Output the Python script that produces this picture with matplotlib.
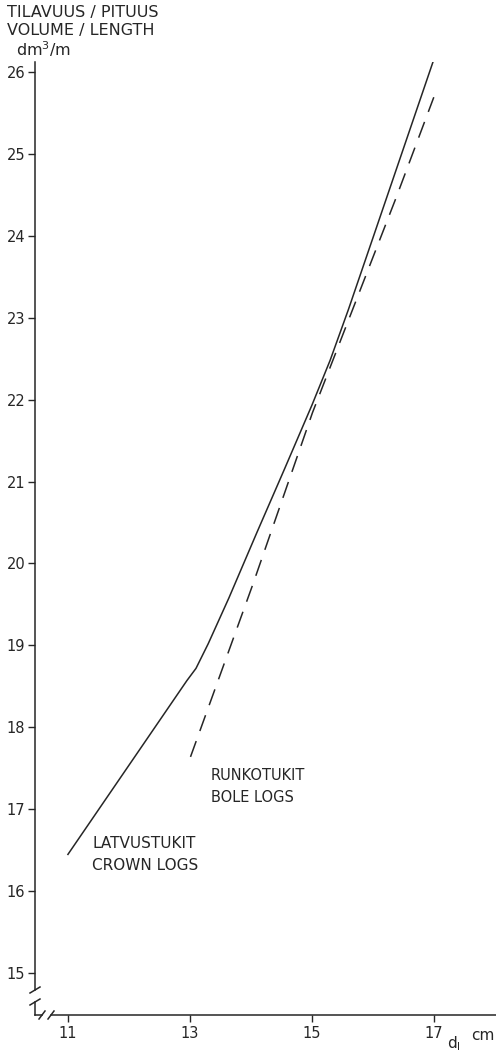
import matplotlib
matplotlib.use("Agg")
import matplotlib.pyplot as plt
from matplotlib.lines import Line2D

# Volume per unit length of logs against top diameter d_l (cm)
crown_d = [11.0, 12.95, 13.1, 13.3, 13.64, 14.1, 14.55, 15.0, 15.3, 15.6, 16.0, 17.0]
crown_v = [16.45, 18.57, 18.72, 19.02, 19.58, 20.38, 21.15, 21.93, 22.48, 23.1, 23.97, 26.15]

bole_d = [13.01, 14.03, 15.01, 16.38, 17.0]
bole_v = [17.64, 19.74, 21.84, 24.46, 25.69]

x_ticks = [11, 13, 15, 17]
y_ticks = list(range(15, 27))

ink = "#262626"
plt.rcParams["font.family"] = ["DejaVu Sans"]

W, H = 496, 1056
fig = plt.figure(figsize=(W / 100, H / 100), dpi=100)
fig.patch.set_facecolor("white")

left_px, right_px, top_px, bottom_px = 35, 496, 62, 1015
ax = fig.add_axes([left_px / W, 1 - bottom_px / H,
                   (right_px - left_px) / W, (bottom_px - top_px) / H])
ax.set_xlim(10.46, 18.02)
ax.set_ylim(14.49, 26.12)

ax.plot(crown_d, crown_v, color=ink, lw=1.1, solid_joinstyle="round")
ax.plot(bole_d, bole_v, color=ink, lw=1.1, dashes=(11, 7))

for s in ("top", "right", "left", "bottom"):
    ax.spines[s].set_visible(False)

# axis lines drawn by hand so both can carry break marks near the origin
def px2ax(x, y):
    return ((x - left_px) / (right_px - left_px), (bottom_px - y) / (bottom_px - top_px))

kw = dict(transform=ax.transAxes, color=ink, lw=1.1, clip_on=False)

def seg(p0, p1):
    (x0, y0), (x1, y1) = px2ax(*p0), px2ax(*p1)
    ax.add_line(Line2D([x0, x1], [y0, y1], **kw))

seg((35, 62), (35, 990))
seg((35, 1002), (35, 1015))
seg((35, 1015), (42, 1015))
seg((51, 1015), (496, 1015))
for cy in (990, 1002):
    seg((30, cy + 3), (40, cy - 3))
for cx in (42, 51):
    seg((cx - 3, 1019), (cx + 3, 1011))

ax.set_xticks(x_ticks)
ax.set_xticklabels([str(t) for t in x_ticks])
ax.set_yticks(y_ticks)
ax.set_yticklabels([str(t) for t in y_ticks])
ax.tick_params(axis="both", direction="out", length=5, width=1.0, color=ink,
               labelcolor=ink, labelsize=10.5)
ax.tick_params(axis="y", pad=2)
ax.tick_params(axis="x", pad=3)

def fig_text(x, y, s, size=11, **k):
    fig.text(x / W, 1 - y / H, s, color=ink, fontsize=size, va="center", ha="left", **k)

fig_text(7, 13, "TILAVUUS / PITUUS", size=11.5)
fig_text(7, 31, "VOLUME / LENGTH", size=11.5)
fig_text(16, 49, "dm$^3$/m", size=11.5)

fig_text(92, 843, "LATVUSTUKIT")
fig_text(92, 865, "CROWN LOGS")
fig_text(211, 776, "RUNKOTUKIT", size=10.5)
fig_text(211, 798, "BOLE LOGS", size=10.5)

fig_text(471, 1036, "cm")
fig.text(447 / W, 3 / H, "d$_\\mathregular{l}$", color=ink, fontsize=11,
         va="bottom", ha="left")

fig.savefig("out.png", dpi=100, facecolor="white")
